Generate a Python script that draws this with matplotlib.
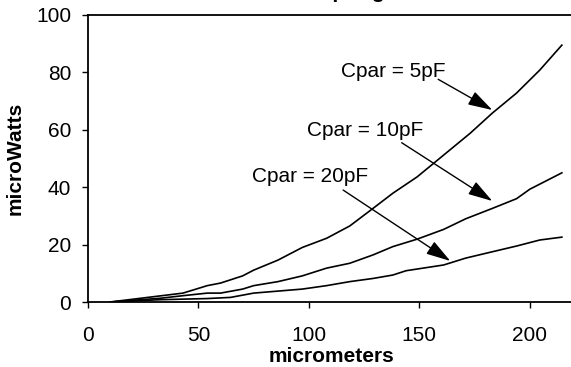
import numpy as np
import matplotlib.pyplot as plt

plt.rcParams['font.family'] = ['Liberation Sans', 'DejaVu Sans']

# micrometers vs microWatts for three parasitic capacitances
x_5pF = [10, 43, 54, 60, 70, 75, 86, 97, 108, 118.5, 129, 138, 149, 161, 173, 183, 194, 204.5, 214.5]
y_5pF = [0, 3.1, 5.7, 6.6, 9.1, 11.1, 14.6, 19.0, 22.2, 26.5, 32.6, 37.9, 43.6, 51.2, 58.8, 65.8, 72.8, 80.8, 89.5]

x_10pF = [10, 32.6, 43, 54, 60, 70, 75, 86, 97, 108, 118.5, 129, 138, 149, 161, 171, 183, 194, 200, 214.5]
y_10pF = [0, 1.3, 2.2, 3.1, 3.1, 4.5, 5.7, 7.1, 9.1, 11.8, 13.5, 16.4, 19.3, 21.9, 25.3, 29.0, 32.6, 36.0, 39.3, 45.0]

x_20pF = [10, 32.6, 54, 64.5, 75, 86, 97, 108, 118.5, 129, 138, 144, 161, 171, 183, 194, 204.5, 214.5]
y_20pF = [0, 0.8, 1.2, 1.6, 3.1, 3.8, 4.5, 5.7, 7.1, 8.2, 9.4, 10.9, 12.9, 15.3, 17.5, 19.5, 21.6, 22.6]

labels = ["Cpar = 5pF", "Cpar = 10pF", "Cpar = 20pF"]
label_pos = [(138, 80.3), (125.5, 59.9), (100.5, 43.9)]
arrow_tail = [(158.5, 77.6), (142, 55.5), (115.5, 39.0)]
arrow_head = [(183, 66.9), (183, 35.2), (164, 14.3)]

fig = plt.figure(figsize=(5.71, 3.67), dpi=100)
ax = fig.add_axes([88/571, (367-302)/367, 486/571, 287/367])

for xs, ys in [(x_5pF, y_5pF), (x_10pF, y_10pF), (x_20pF, y_20pF)]:
    ax.plot(xs, ys, color='black', linewidth=1.2)

for lab, pos, tail, head in zip(labels, label_pos, arrow_tail, arrow_head):
    ax.text(pos[0], pos[1], lab, fontsize=15, ha='center', va='center')
    ax.annotate('', xy=head, xytext=tail,
                arrowprops=dict(arrowstyle='-|>,head_length=1.5,head_width=0.45',
                                color='black', lw=1.0, shrinkA=0, shrinkB=0))

ax.set_xlim(0, 220)
ax.set_ylim(0, 100)
ax.set_xticks([0, 50, 100, 150, 200])
ax.set_yticks([0, 20, 40, 60, 80, 100])
ax.tick_params(direction='out', length=4, width=1, labelsize=15)
ax.tick_params(axis='x', pad=13)
ax.tick_params(axis='y', pad=8)
for s in ['left', 'bottom', 'top', 'right']:
    ax.spines[s].set_linewidth(1.3)

ax.set_xlabel("micrometers", fontsize=15, fontweight='bold', labelpad=2)
ax.set_ylabel("microWatts", fontsize=15, fontweight='bold', labelpad=8)

# title mostly cut off above the image, only descenders show
fig.text(215/571, 1 + 1.5/367, "Power vs. Spring Width", fontsize=15,
         fontweight='bold', ha='left', va='baseline')

fig.savefig('out.png', dpi=100)
